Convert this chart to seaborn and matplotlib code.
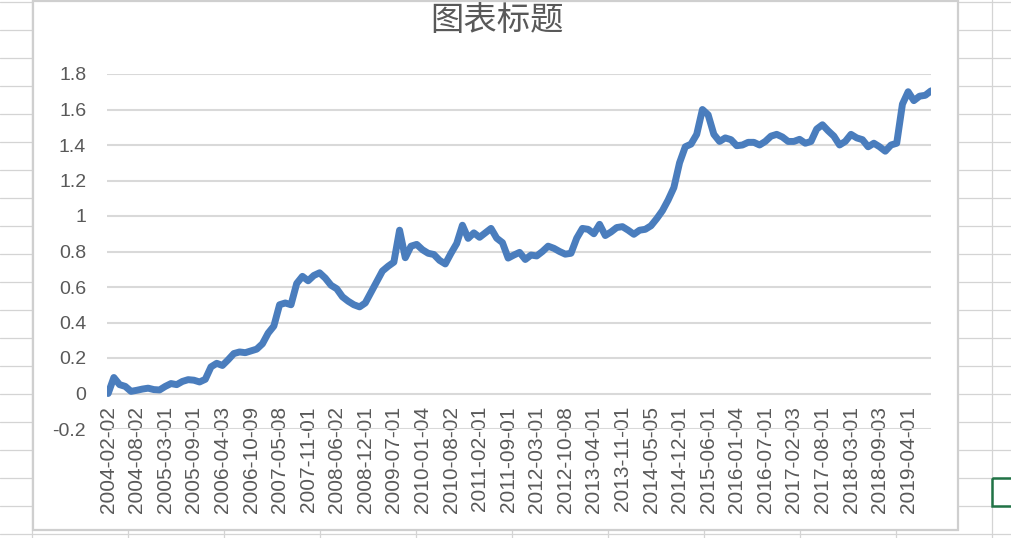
import matplotlib
matplotlib.use("Agg")
import matplotlib.pyplot as plt
import pandas as pd
import seaborn as sns
from matplotlib.patches import Rectangle


TITLE = "图表标题"

DATE_LABELS = [
    "2004-02-02", "2004-08-02", "2005-03-01", "2005-09-01", "2006-04-03",
    "2006-10-09", "2007-05-08", "2007-11-01", "2008-06-02", "2008-12-01",
    "2009-07-01", "2010-01-04", "2010-08-02", "2011-02-01", "2011-09-01",
    "2012-03-01", "2012-10-08", "2013-04-01", "2013-11-01", "2014-05-05",
    "2014-12-01", "2015-06-01", "2016-01-04", "2016-07-01", "2017-02-03",
    "2017-08-01", "2018-03-01", "2018-09-03", "2019-04-01",
]
LABEL_STEP = 5  # one date label every 5 samples

VALUES = [
    0.00, 0.09, 0.05, 0.04, 0.012, 0.018, 0.025, 0.03, 0.022, 0.02,
    0.04, 0.056, 0.05, 0.068, 0.078, 0.075, 0.065, 0.08, 0.15, 0.17,
    0.158, 0.19, 0.225, 0.234, 0.23, 0.24, 0.25, 0.28, 0.34, 0.38,
    0.50, 0.51, 0.50, 0.62, 0.66, 0.635, 0.665, 0.68, 0.65, 0.61,
    0.59, 0.545, 0.52, 0.50, 0.488, 0.51, 0.57, 0.63, 0.69, 0.717,
    0.74, 0.92, 0.765, 0.83, 0.84, 0.81, 0.79, 0.783, 0.75, 0.73,
    0.79, 0.845, 0.948, 0.874, 0.905, 0.88, 0.905, 0.93, 0.875, 0.85,
    0.763, 0.78, 0.795, 0.755, 0.78, 0.775, 0.80, 0.83, 0.818, 0.80,
    0.785, 0.79, 0.875, 0.93, 0.925, 0.90, 0.953, 0.89, 0.91, 0.935,
    0.94, 0.92, 0.897, 0.92, 0.925, 0.945, 0.985, 1.03, 1.09, 1.16,
    1.30, 1.39, 1.405, 1.46, 1.60, 1.57, 1.46, 1.42, 1.44, 1.43,
    1.396, 1.40, 1.415, 1.415, 1.40, 1.42, 1.45, 1.46, 1.445, 1.42,
    1.42, 1.432, 1.41, 1.42, 1.49, 1.514, 1.48, 1.45, 1.40, 1.42,
    1.46, 1.44, 1.43, 1.39, 1.41, 1.39, 1.365, 1.40, 1.41, 1.63,
    1.70, 1.65, 1.675, 1.68, 1.705,
]

Y_TICKS = [-0.2, 0.0, 0.2, 0.4, 0.6, 0.8, 1.0, 1.2, 1.4, 1.6, 1.8]
Y_TICK_LABELS = ["-0.2", "0", "0.2", "0.4", "0.6", "0.8", "1", "1.2", "1.4", "1.6", "1.8"]

LINE_COLOR = "#4a7dbd"
TEXT_COLOR = "#595959"
GRID_COLOR = "#d9d9d9"
SHEET_COLOR = "#d4d4d4"


def draw_sheet_background(fig):
    # spreadsheet cells behind the chart object, in pixel units
    bg = fig.add_axes([0, 0, 1, 1], zorder=-1)
    bg.set_xlim(0, 1011)
    bg.set_ylim(538, 0)
    bg.axis("off")
    for k in range(20):
        bg.axhline(2 + 28 * k, color=SHEET_COLOR, linewidth=0.9, zorder=1)
    for k in range(11):
        bg.axvline(32 + 96 * k, color=SHEET_COLOR, linewidth=0.9, zorder=1)
    bg.add_patch(Rectangle((33, 1), 925, 529, facecolor="white",
                           edgecolor="#cfcfcf", linewidth=1.6, zorder=3))
    bg.add_patch(Rectangle((992, 478), 25, 28, facecolor="none",
                           edgecolor="#217346", linewidth=1.8, zorder=4))


def main() -> None:
    sns.set_theme(style="white")
    plt.rcParams["font.family"] = ["Liberation Sans", "Noto Sans CJK SC", "DejaVu Sans"]

    df = pd.DataFrame({"idx": range(len(VALUES)), "value": VALUES})

    fig = plt.figure(figsize=(10.11, 5.38), dpi=100, facecolor="white")
    draw_sheet_background(fig)

    ax = fig.add_axes([107 / 1011, 1 - 429 / 538, 824 / 1011, 355 / 538])
    ax.set_facecolor("none")
    sns.lineplot(
        data=df, x="idx", y="value", ax=ax, color=LINE_COLOR,
        linewidth=5.0, solid_joinstyle="round", solid_capstyle="round",
    )

    ax.set_xlim(-0.2, len(VALUES) - 1)
    ax.set_ylim(-0.2, 1.8)
    ax.set_xticks([i * LABEL_STEP for i in range(len(DATE_LABELS))])
    ax.set_xticklabels(DATE_LABELS)
    ax.set_yticks(Y_TICKS)
    ax.set_yticklabels(Y_TICK_LABELS)
    ax.set_xlabel("")
    ax.set_ylabel("")

    ax.yaxis.grid(True, color=GRID_COLOR, linewidth=1.5)
    ax.xaxis.grid(False)
    ax.set_axisbelow(True)

    ax.spines["bottom"].set_position(("data", 0))
    for side in ["top", "right", "left", "bottom"]:
        ax.spines[side].set_visible(False)

    ax.tick_params(axis="x", length=0, pad=9, labelsize=15,
                   labelcolor=TEXT_COLOR, labelrotation=90)
    ax.tick_params(axis="y", length=0, pad=15, labelsize=14,
                   labelcolor=TEXT_COLOR)

    fig.text(0.4916, 0.962, TITLE, ha="center", va="center", fontsize=24,
             color=TEXT_COLOR, family=["Noto Sans CJK SC", "DejaVu Sans"])

    fig.savefig("out.png", dpi=100, facecolor="white")
    plt.close(fig)


if __name__ == "__main__":
    main()
